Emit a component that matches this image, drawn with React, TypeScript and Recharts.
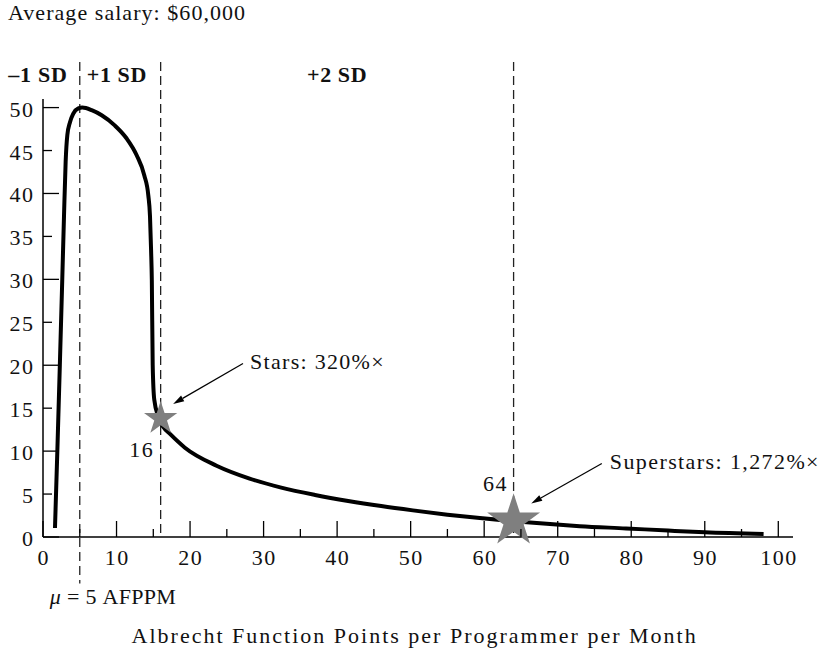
import React from 'react';
import { ComposedChart, Line, Scatter, XAxis, YAxis, ReferenceLine, ReferenceDot } from 'recharts';

// AFPPM (x) against share of programmers (y)
const afppm = [1.63, 1.95, 2.29, 2.62, 2.86, 3.08, 3.31, 3.67, 4.12, 4.8, 5.35, 6.62, 7.98, 9.79, 11.38, 12.74, 13.78, 14.32, 14.55, 14.7, 14.8, 14.92, 15.13, 15.68, 16.36, 17.27, 19.3, 23.6, 28.1, 32.4, 37, 41.5, 46, 50.3, 55, 59.4, 64, 68.5, 73, 79.3, 85, 90, 98];
const share = [1.05, 10, 20, 30, 37.5, 43.7, 46.8, 48.3, 49.3, 49.9, 50, 49.7, 49.1, 47.9, 46.4, 44.45, 42.1, 39.8, 37.4, 33.4, 29.9, 20, 16, 14.0, 12.8, 12.0, 10.4, 8.3, 6.8, 5.75, 4.9, 4.2, 3.6, 3.1, 2.6, 2.2, 1.84, 1.53, 1.26, 1.0, 0.75, 0.55, 0.35];

// the two starred points
const starX = [16, 64];
const starY = [13.8, 1.85];
const starKind = ['star', 'superstar'];

const xTicks = [0, 5, 10, 15, 20, 25, 30, 35, 40, 45, 50, 55, 60, 65, 70, 75, 80, 85, 90, 95, 100];
const yTicks = [0, 5, 10, 15, 20, 25, 30, 35, 40, 45, 50];

const curve = afppm.map((x, i) => ({ x, y: share[i] }));
const stars = starX.map((x, i) => ({ x, y: starY[i], kind: starKind[i] }));

const FONT = '"Liberation Serif", "Times New Roman", serif';
const STAR_R: Record<string, number> = { star: 17.5, superstar: 27.8 };

function starPath(cx: number, cy: number, R: number) {
    const r = R * 0.382;
    let d = '';
    for (let i = 0; i < 10; i++) {
        const a = -Math.PI / 2 + (i * Math.PI) / 5;
        const rad = i % 2 === 0 ? R : r;
        d += (i ? 'L' : 'M') + (cx + rad * Math.cos(a)).toFixed(2) + ',' + (cy + rad * Math.sin(a)).toFixed(2);
    }
    return d + 'Z';
}

const StarShape = (p: any) => (
    <path d={starPath(p.cx, p.cy, STAR_R[p.payload?.kind] ?? 17.5)} fill="#7f7f7f" />
);

const Arrow = (p: any) => {
    const { x1, y1, x2, y2 } = p;
    const a = Math.atan2(y2 - y1, x2 - x1);
    const L = 11;
    const W = 3.2;
    const bx = x2 - L * Math.cos(a);
    const by = y2 - L * Math.sin(a);
    const px = -Math.sin(a) * W;
    const py = Math.cos(a) * W;
    return (
        <g>
            <line x1={x1} y1={y1} x2={bx} y2={by} stroke="#000" strokeWidth={1.2} />
            <path d={`M${x2},${y2}L${bx + px},${by + py}L${bx - px},${by - py}Z`} fill="#000" />
        </g>
    );
};

const DashedLine = (p: any) => (
    <line x1={p.x1} y1={p.y1} x2={p.x2} y2={p.y2} stroke="#222" strokeWidth={1.3} strokeDasharray="9 5" />
);

// text anchored to a data point, offset in pixels
const note = (content: React.ReactNode, dx: number, dy: number, anchor = 'start', spacing = 1, bold = false) => (p: any) => (
    <text
        x={p.cx + dx}
        y={p.cy + dy}
        textAnchor={anchor}
        fontFamily={FONT}
        fontSize={22}
        fontWeight={bold ? 700 : 400}
        letterSpacing={spacing}
        fill="#111"
    >
        {content}
    </text>
);

const XTick = ({ x, y, payload }: any) => {
    const major = payload.value % 10 === 0;
    return (
        <g>
            <line x1={x} y1={y} x2={x} y2={y - (major ? 16 : 8)} stroke="#000" strokeWidth={1.3} />
            {major && (
                <text x={x + 0.7} y={y + 28} textAnchor="middle" fontFamily={FONT} fontSize={22} letterSpacing={1.5} fill="#111">
                    {payload.value}
                </text>
            )}
        </g>
    );
};

const YTick = ({ x, y, payload }: any) => {
    const major = payload.value % 10 === 0;
    return (
        <g>
            <line x1={x} y1={y} x2={x + (major ? 16 : 9)} y2={y} stroke="#000" strokeWidth={1.3} />
            <text x={x - 8.5} y={y + 9} textAnchor="end" fontFamily={FONT} fontSize={22} letterSpacing={1.5} fill="#111">
                {payload.value}
            </text>
        </g>
    );
};

export default function App() {
    return (
        <div style={{ position: 'absolute', left: 0, top: 0, background: '#fff' }}>
            <ComposedChart width={826} height={654} margin={{ top: 99, right: 33, bottom: 87, left: 0 }}>
                <XAxis
                    type="number"
                    dataKey="x"
                    domain={[0, 102]}
                    ticks={xTicks}
                    interval={0}
                    height={30}
                    tickSize={0}
                    tickMargin={0}
                    tickLine={false}
                    axisLine={{ stroke: '#000', strokeWidth: 1.5 }}
                    tick={XTick}
                />
                <YAxis
                    type="number"
                    domain={[0, 51]}
                    ticks={yTicks}
                    interval={0}
                    width={43}
                    tickSize={0}
                    tickMargin={0}
                    tickLine={false}
                    axisLine={{ stroke: '#000', strokeWidth: 1.5 }}
                    tick={YTick}
                />

                <ReferenceLine segment={[{ x: 5, y: 55.3 }, { x: 5, y: -5.4 }]} ifOverflow="visible" shape={DashedLine} />
                <ReferenceLine segment={[{ x: 16, y: 55.3 }, { x: 16, y: 0 }]} ifOverflow="visible" shape={DashedLine} />
                <ReferenceLine segment={[{ x: 64, y: 55.3 }, { x: 64, y: 0 }]} ifOverflow="visible" shape={DashedLine} />

                <Scatter data={stars} dataKey="y" shape={StarShape} isAnimationActive={false} />
                <Line
                    data={curve}
                    dataKey="y"
                    type="monotone"
                    stroke="#000"
                    strokeWidth={4}
                    dot={false}
                    activeDot={false}
                    isAnimationActive={false}
                />

                <ReferenceLine segment={[{ x: 27.2, y: 20.2 }, { x: 17.7, y: 15.5 }]} ifOverflow="visible" shape={Arrow} />
                <ReferenceLine segment={[{ x: 76, y: 8.55 }, { x: 66.4, y: 3.9 }]} ifOverflow="visible" shape={Arrow} />

                <ReferenceDot x={0} y={51} ifOverflow="visible" shape={note('Average salary: $60,000', -35, -79, 'start', 1.05)} />
                <ReferenceDot x={5} y={51} ifOverflow="visible" shape={note('–1 SD', -12, -17, 'end', 0.8, true)} />
                <ReferenceDot x={5} y={51} ifOverflow="visible" shape={note('+1 SD', 7, -17, 'start', 0.6, true)} />
                <ReferenceDot x={40} y={51} ifOverflow="visible" shape={note('+2 SD', 0, -17, 'middle', 0.6, true)} />
                <ReferenceDot x={16} y={13.8} ifOverflow="visible" shape={note('16', -6.5, 38.5, 'end', 1.5)} />
                <ReferenceDot x={64} y={1.85} ifOverflow="visible" shape={note('64', -5.5, -30, 'end', 1.5)} />
                <ReferenceDot x={27.2} y={20.2} ifOverflow="visible" shape={note('Stars: 320%×', 7, 5, 'start', 1.3)} />
                <ReferenceDot x={76} y={8.55} ifOverflow="visible" shape={note('Superstars: 1,272%×', 8, 5, 'start', 1.4)} />
                <ReferenceDot
                    x={5}
                    y={0}
                    ifOverflow="visible"
                    shape={note(<><tspan fontStyle="italic">μ</tspan> = 5 AFPPM</>, -30, 67, 'start', 0.3)}
                />
                <ReferenceDot
                    x={50}
                    y={0}
                    ifOverflow="visible"
                    shape={note('Albrecht Function Points per Programmer per Month', 4, 106, 'middle', 2)}
                />
            </ComposedChart>
        </div>
    );
}
